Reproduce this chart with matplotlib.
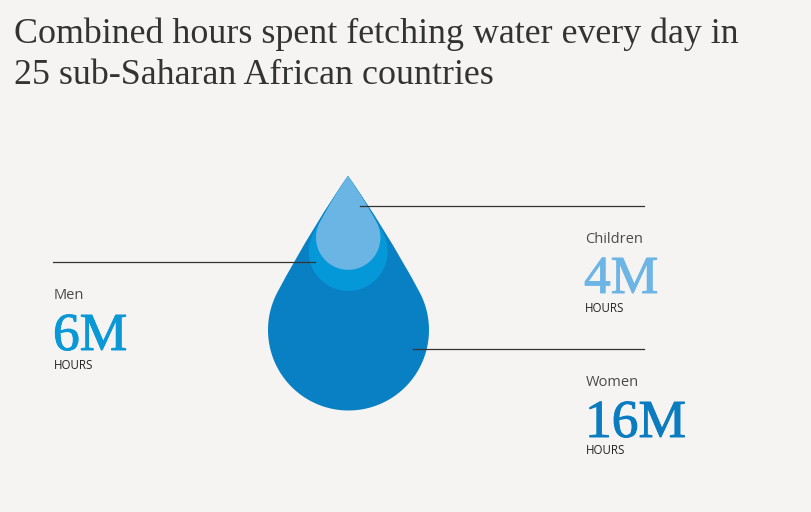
import numpy as np
import matplotlib.pyplot as plt
import matplotlib.patheffects as pe
from matplotlib.path import Path
from matplotlib.patches import PathPatch

# data
groups = ["Women", "Men", "Children"]
hours_m = [16, 6, 4]
title_lines = ["Combined hours spent fetching water every day in",
               "25 sub-Saharan African countries"]

# styles
bg = "#f5f4f2"
drop_colors = {"Women": "#0a80c4", "Men": "#0598d8", "Children": "#6ab5e4"}
num_colors = {"Women": "#0b7cc0", "Men": "#0a98d6", "Children": "#6db5e4"}
drop_scale = {"Women": 1.0, "Men": 0.49, "Children": 0.4}

# label layout (pixel coords, y down): x, name baseline, number baseline, HOURS baseline
label_pos = {
    "Men": (54, 299, 350, 369),
    "Children": (585, 243, 293, 312),
    "Women": (586, 386, 437, 454),
}
leader = {
    "Men": (53, 315, 262),
    "Children": (360, 644, 206),
    "Women": (413, 644, 349),
}

TIP = np.array([348.0, 176.0])
CENTER = np.array([348.5, 330.0])
R = 80.5
TIP_HALF = np.radians(36)
JOIN = np.radians(62)


def side(sign):
    # cubic from tip to the join point on the circle (sign -1 left, +1 right)
    d0 = np.array([sign * np.sin(TIP_HALF), np.cos(TIP_HALF)])
    p3 = CENTER + R * np.array([sign * np.sin(JOIN), -np.cos(JOIN)])
    d3 = np.array([-sign * np.cos(JOIN), -np.sin(JOIN)])
    A = np.column_stack([d0, -d3])
    s, u = np.linalg.solve(A, p3 - TIP)
    return TIP + 0.55 * s * d0, p3 + 0.6 * u * d3, p3


def drop_path(scale):
    r1, r2, r3 = side(1)
    l1, l2, l3 = side(-1)
    verts = [TIP, r1, r2, r3]
    codes = [Path.MOVETO] + [Path.CURVE4] * 3
    for ang in np.linspace(JOIN, 2 * np.pi - JOIN, 90)[1:-1]:
        verts.append(CENTER + R * np.array([np.sin(ang), -np.cos(ang)]))
        codes.append(Path.LINETO)
    verts += [l3, l2, l1, TIP, TIP]
    codes += [Path.LINETO, Path.CURVE4, Path.CURVE4, Path.CURVE4, Path.CLOSEPOLY]
    verts = TIP + (np.array(verts) - TIP) * scale
    return Path(verts, codes)


fig = plt.figure(figsize=(8.12, 5.12), dpi=100, facecolor=bg)
ax = fig.add_axes([0, 0, 1, 1])
ax.set_facecolor(bg)
ax.set_xlim(0, 812)
ax.set_ylim(512, 0)
ax.axis("off")

for g in groups:
    ax.add_patch(PathPatch(drop_path(drop_scale[g]), facecolor=drop_colors[g],
                           edgecolor="none", zorder=2))

for g, v in zip(groups, hours_m):
    x0, x1, y = leader[g]
    ax.plot([x0, x1], [y, y], color="#333333", lw=0.9, zorder=3)
    x, yn, yv, yh = label_pos[g]
    ax.text(x, yn, g, fontsize=10.5, family="Open Sans", color="#4a4a4a", va="baseline")
    ax.text(x - 1, yv, f"{v}M", fontsize=38.5, family="Liberation Serif",
            color=num_colors[g], va="baseline",
            path_effects=[pe.withStroke(linewidth=0.7, foreground=num_colors[g])])
    ax.text(x, yh, "HOURS", fontsize=8.3, family="Open Sans", color="#222222", va="baseline")

for i, line in enumerate(title_lines):
    ax.text(14, 43 + 41 * i, line, fontsize=25.8, family="Liberation Serif",
            color="#333333", va="baseline")

fig.savefig("out.png", dpi=100, facecolor=bg)
